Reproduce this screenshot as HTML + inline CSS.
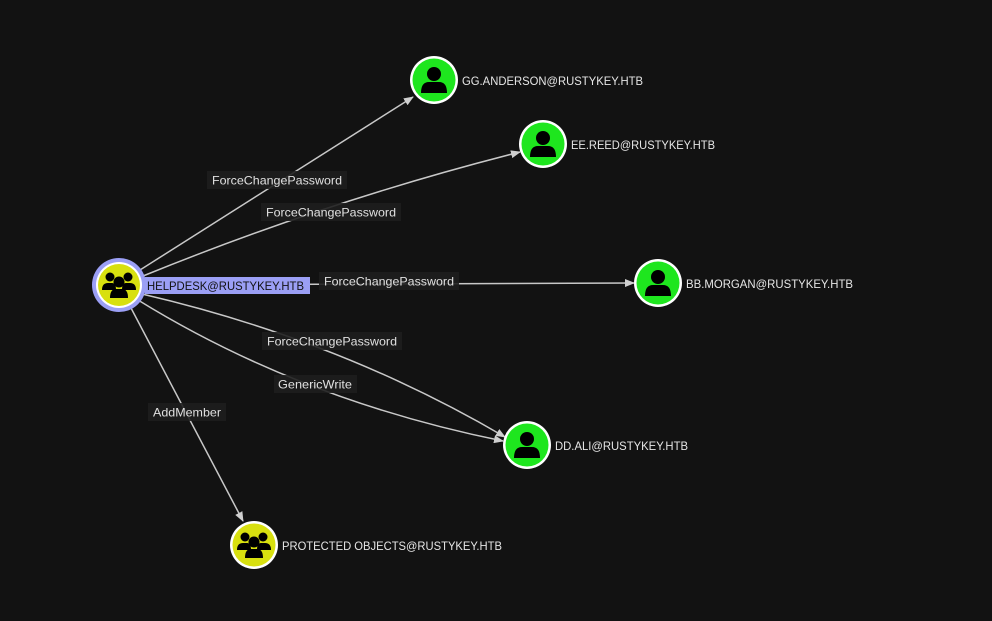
<!DOCTYPE html>
<html><head><meta charset="utf-8"><style>
html,body{margin:0;padding:0;background:#121212;}
svg{display:block}
text{font-family:"Liberation Sans",sans-serif;}
</style></head><body>
<svg width="992" height="621" viewBox="0 0 992 621" xmlns="http://www.w3.org/2000/svg">
<defs>
<marker id="a" markerWidth="10" markerHeight="8" refX="9" refY="4" orient="auto" markerUnits="userSpaceOnUse">
<path d="M0,0 L10,4 L0,8 z" fill="#cfcfcf"/></marker>
<g id="person"><circle cx="0" cy="-6" r="7" fill="#000"/><path d="M-13,13 Q-13,2 -5,2 L5,2 Q13,2 13,13 Z" fill="#000"/></g>
<g id="group">
<circle cx="-9" cy="-8" r="4.5" fill="#000"/><circle cx="9" cy="-8" r="4.5" fill="#000"/>
<path d="M-17,5 Q-17,-2 -11,-2 L-7,-2 Q-3,-2 -3,5 Z" fill="#000"/>
<path d="M17,5 Q17,-2 11,-2 L7,-2 Q3,-2 3,5 Z" fill="#000"/>
<circle cx="0" cy="-3" r="5.5" fill="#000"/>
<path d="M-9,13 Q-9,4 -3,4 L3,4 Q9,4 9,13 Z" fill="#000"/>
</g>
</defs>
<rect width="992" height="621" fill="#121212"/>
<g stroke="#c8c8c8" stroke-width="1.5" fill="none" marker-end="url(#a)">
<path d="M140,270 L413,97"/>
<path d="M143,276 Q330,200 520,152"/>
<path d="M145,285 L634,283"/>
<path d="M142,294 Q340,340 505,437"/>
<path d="M138,300 Q300,400 503,441"/>
<path d="M131,308 L243,521"/>
</g>
<g font-size="12" fill="#e0e0e0">
<rect x="207" y="171" width="140" height="18" fill="#1e1e1e" opacity="0.9"/><text x="212" y="184.5" textLength="130" lengthAdjust="spacingAndGlyphs">ForceChangePassword</text>
<rect x="261" y="203" width="140" height="18" fill="#1e1e1e" opacity="0.9"/><text x="266" y="216.5" textLength="130" lengthAdjust="spacingAndGlyphs">ForceChangePassword</text>
<rect x="319" y="272" width="140" height="18" fill="#1e1e1e" opacity="0.9"/><text x="324" y="285.5" textLength="130" lengthAdjust="spacingAndGlyphs">ForceChangePassword</text>
<rect x="262" y="332" width="140" height="18" fill="#1e1e1e" opacity="0.9"/><text x="267" y="345.5" textLength="130" lengthAdjust="spacingAndGlyphs">ForceChangePassword</text>
<rect x="274" y="375" width="83" height="18" fill="#1e1e1e" opacity="0.9"/><text x="278" y="388.5" textLength="74" lengthAdjust="spacingAndGlyphs">GenericWrite</text>
<rect x="148" y="403" width="78" height="18" fill="#1e1e1e" opacity="0.9"/><text x="153" y="416.5" textLength="68" lengthAdjust="spacingAndGlyphs">AddMember</text>
</g>
<!-- helpdesk -->
<circle cx="119" cy="285" r="27" fill="#9b9ff5"/>
<circle cx="119" cy="285" r="23" fill="#fff"/>
<circle cx="119" cy="285" r="21" fill="#d8e00f"/>
<use href="#group" x="119" y="285"/>
<rect x="145" y="277" width="165" height="17" fill="#9b9ff5"/>
<text x="147" y="290" font-size="12" fill="#111" textLength="157" lengthAdjust="spacingAndGlyphs">HELPDESK@RUSTYKEY.HTB</text>
<!-- users -->
<g font-size="12" fill="#e6e6e6">
<circle cx="434" cy="80" r="24" fill="#fff"/><circle cx="434" cy="80" r="21.5" fill="#1ee61e"/><use href="#person" x="434" y="80"/>
<text x="462" y="85" textLength="181" lengthAdjust="spacingAndGlyphs">GG.ANDERSON@RUSTYKEY.HTB</text>
<circle cx="543" cy="144" r="24" fill="#fff"/><circle cx="543" cy="144" r="21.5" fill="#1ee61e"/><use href="#person" x="543" y="144"/>
<text x="571" y="149" textLength="144" lengthAdjust="spacingAndGlyphs">EE.REED@RUSTYKEY.HTB</text>
<circle cx="658" cy="283" r="24" fill="#fff"/><circle cx="658" cy="283" r="21.5" fill="#1ee61e"/><use href="#person" x="658" y="283"/>
<text x="686" y="288" textLength="167" lengthAdjust="spacingAndGlyphs">BB.MORGAN@RUSTYKEY.HTB</text>
<circle cx="527" cy="445" r="24" fill="#fff"/><circle cx="527" cy="445" r="21.5" fill="#1ee61e"/><use href="#person" x="527" y="445"/>
<text x="555" y="450" textLength="133" lengthAdjust="spacingAndGlyphs">DD.ALI@RUSTYKEY.HTB</text>
<circle cx="254" cy="545" r="24" fill="#fff"/><circle cx="254" cy="545" r="21.5" fill="#d8e00f"/><use href="#group" x="254" y="545"/>
<text x="282" y="550" textLength="220" lengthAdjust="spacingAndGlyphs">PROTECTED OBJECTS@RUSTYKEY.HTB</text>
</g>
</svg>
</body></html>
